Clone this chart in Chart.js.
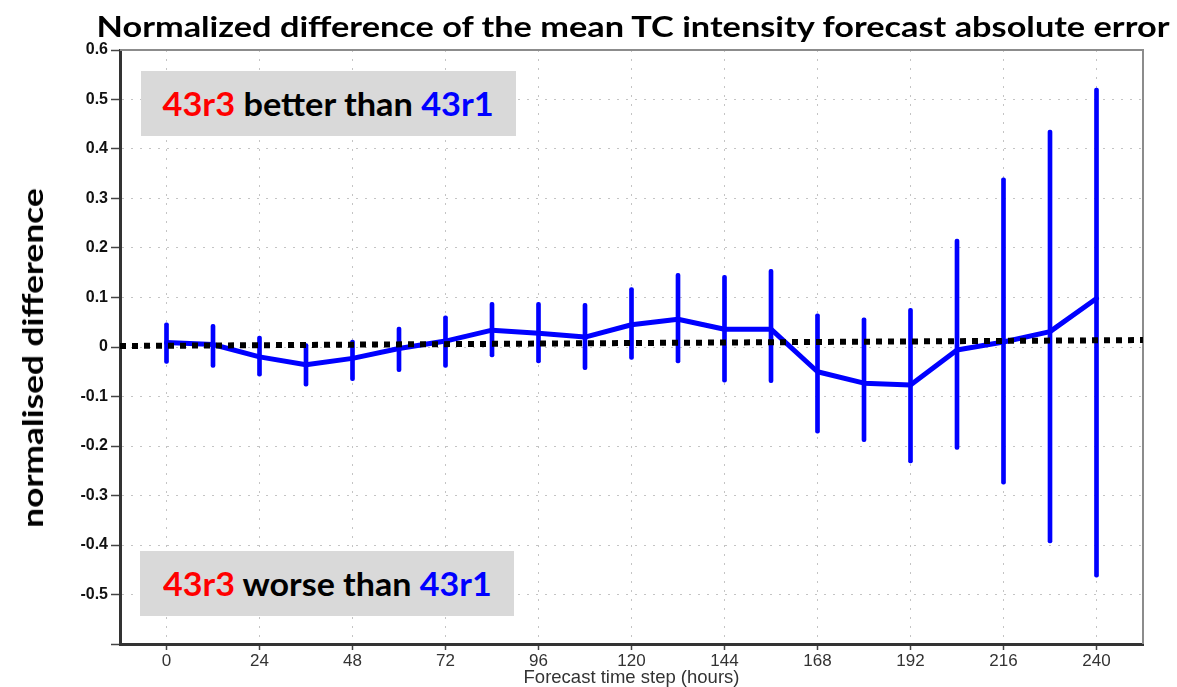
<!DOCTYPE html>
<html>
<head>
<meta charset="utf-8">
<script src="https://cdn.jsdelivr.net/npm/chart.js@4.4.1/dist/chart.umd.min.js"></script>
<style>
body{margin:0;background:#fff;overflow:hidden}
#wrap{position:relative;width:1177px;height:687px}
canvas{position:absolute;left:0;top:0}
.txt{position:absolute;white-space:nowrap;font-family:Lato,"Open Sans",sans-serif;font-weight:700;line-height:1;color:#000;transform:translate(-50%,-50%)}
.box{position:absolute;background:#d9d9d9;display:flex;align-items:center;justify-content:center}
.box > span{display:inline-block;white-space:nowrap;font-family:Lato,"Open Sans",sans-serif;font-weight:700;font-size:33px;line-height:1;color:#000}
.r{color:#ff0000}
.b{color:#0000ff}
</style>
</head>
<body>
<div id="wrap">
<canvas id="chart" width="1177" height="687"></canvas>
<div class="txt" style="left:633px;top:25px;font-size:29px" data-w="1073">Normalized difference of the mean TC intensity forecast absolute error</div>
<div class="txt" style="left:32px;top:358px;font-size:28px" data-w="340" data-rot="1">normalised difference</div>
<div class="box" style="left:141px;top:71px;width:375px;height:65px"><span data-w="331"><span class="r">43r3</span> better than <span class="b">43r1</span></span></div>
<div class="box" style="left:140px;top:551px;width:374px;height:65px"><span data-w="329"><span class="r">43r3</span> worse than <span class="b">43r1</span></span></div>
</div>
<script>
/* ===== DATA ===== */
const hours = [0,12,24,36,48,60,72,84,96,108,120,132,144,156,168,180,192,204,216,228,240];
const meanDiff = [0.009,0.005,-0.02,-0.036,-0.023,-0.003,0.012,0.034,0.028,0.02,0.045,0.056,0.036,0.036,-0.05,-0.073,-0.077,-0.006,0.01,0.031,0.098];
const errLow  = [-0.033,-0.041,-0.059,-0.079,-0.068,-0.05,-0.041,-0.02,-0.032,-0.046,-0.025,-0.032,-0.071,-0.072,-0.174,-0.191,-0.234,-0.207,-0.277,-0.396,-0.465];
const errHigh = [0.049,0.046,0.022,0.007,0.014,0.04,0.063,0.09,0.09,0.088,0.12,0.149,0.145,0.157,0.067,0.059,0.078,0.218,0.342,0.438,0.523];

const refLineX = [-12,252];
const refLineY = [0.002,0.014];

const xTickValues = [0,24,48,72,96,120,144,168,192,216,240];
const yTickValues = [-0.6,-0.5,-0.4,-0.3,-0.2,-0.1,0,0.1,0.2,0.3,0.4,0.5,0.6];

/* ===== TEXT FIT ===== */
function fitText(){
  document.querySelectorAll("[data-w]").forEach(el=>{
    el.style.transform = el.classList.contains("txt") ? "translate(-50%,-50%)" : "none";
    const s = el.dataset.w / el.offsetWidth;
    let t = el.classList.contains("txt") ? "translate(-50%,-50%) " : "";
    if(el.dataset.rot) t += "rotate(-90deg) ";
    el.style.transform = t + "scaleX(" + s + ")";
  });
}
fitText();
if(document.fonts) document.fonts.ready.then(fitText);

/* ===== CHART ===== */
const frame = {
  id:"frame",
  beforeDatasetsDraw(chart){
    const {ctx, chartArea:a} = chart;
    ctx.save();
    ctx.strokeStyle = "#8c8c8c";
    ctx.lineWidth = 2;
    ctx.beginPath();
    ctx.moveTo(a.left, a.top);
    ctx.lineTo(a.right, a.top);
    ctx.lineTo(a.right, a.bottom);
    ctx.stroke();
    ctx.restore();
  }
};

new Chart(document.getElementById("chart"),{
  type:"line",
  data:{
    datasets:[
      {
        type:"line",
        data:refLineX.map((x,i)=>({x:x, y:refLineY[i]})),
        borderColor:"#000",
        borderWidth:6,
        borderDash:[6,6],
        pointRadius:0,
        order:0
      },
      {
        type:"line",
        data:hours.map((h,i)=>({x:h, y:meanDiff[i]})),
        borderColor:"#0000ff",
        borderWidth:5,
        borderJoinStyle:"round",
        borderCapStyle:"round",
        tension:0,
        pointRadius:0,
        order:1
      },
      {
        type:"bar",
        data:hours.map((h,i)=>({x:h, y:[errLow[i], errHigh[i]]})),
        backgroundColor:"#0000ff",
        barThickness:4,
        borderRadius:2,
        borderSkipped:false,
        order:2
      }
    ]
  },
  options:{
    responsive:false,
    animation:false,
    layout:{padding:{top:50, right:34, left:0, bottom:0}},
    plugins:{legend:{display:false}, tooltip:{enabled:false}},
    scales:{
      x:{
        type:"linear",
        min:-12,
        max:252,
        offset:false,
        afterBuildTicks:(s)=>{ s.ticks = xTickValues.map(v=>({value:v})); },
        afterFit:(s)=>{ s.height = 43; },
        grid:{color:"#c4c4c4", lineWidth:1, offset:false, tickColor:"#444", tickWidth:1.5, tickLength:6},
        border:{color:"#333", width:3, dash:[2,7]},
        ticks:{
          color:"#333",
          padding:1,
          maxRotation:0,
          autoSkip:false,
          font:{family:"'Liberation Sans', Arial, sans-serif", size:17},
          callback:(v)=>String(v)
        },
        title:{
          display:true,
          text:"Forecast time step (hours)",
          color:"#333",
          padding:0,
          font:{family:"'Liberation Sans', Arial, sans-serif", size:18.5, lineHeight:1}
        }
      },
      y:{
        type:"linear",
        min:-0.6,
        max:0.6,
        afterBuildTicks:(s)=>{ s.ticks = yTickValues.map(v=>({value:v})); },
        afterFit:(s)=>{ s.width = 120; },
        grid:{color:"#c4c4c4", lineWidth:1, tickColor:"#444", tickWidth:1.5, tickLength:9},
        border:{color:"#333", width:3, dash:[2,7]},
        ticks:{
          color:"#111",
          padding:3,
          autoSkip:false,
          font:{family:"'Liberation Sans', Arial, sans-serif", size:16, weight:"bold"},
          callback:(v)=> v===-0.6 ? "" : (v===0 ? "0" : v.toFixed(1))
        }
      }
    }
  },
  plugins:[frame]
});
</script>
</body>
</html>
